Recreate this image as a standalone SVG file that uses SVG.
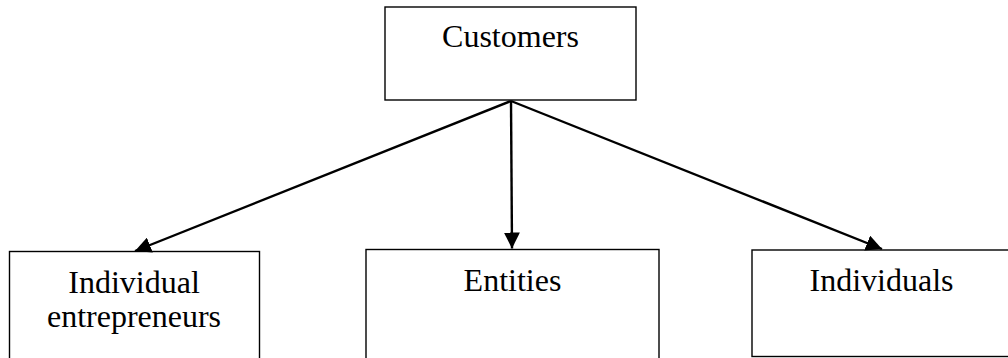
<svg xmlns="http://www.w3.org/2000/svg" width="1008" height="358" viewBox="0 0 1008 358">
  <style>
    .box { fill: #ffffff; stroke: #000000; stroke-width: 1.4; }
    .label { font-family: "Liberation Serif", "Times New Roman", serif; font-size: 32px; fill: #000000; text-anchor: middle; }
    .edge { stroke: #000000; stroke-width: 2.4; fill: none; marker-end: url(#arrow); }
  </style>
  <defs>
    <marker id="arrow" viewBox="0 0 16 16" refX="16" refY="8" markerWidth="16" markerHeight="16" markerUnits="userSpaceOnUse" orient="auto">
      <path d="M0,0 L16,8 L0,16 Z" fill="#000000"/>
    </marker>
  </defs>

  <rect width="1008" height="358" fill="#ffffff"/>

  <g id="customers">
    <rect class="box" x="385" y="7" width="251" height="93"/>
    <text class="label" x="510.5" y="47">Customers</text>
  </g>

  <g id="individual-entrepreneurs">
    <rect class="box" x="9.5" y="251.5" width="250" height="120"/>
    <text class="label" x="134" y="293">Individual</text>
    <text class="label" x="134" y="327">entrepreneurs</text>
  </g>

  <g id="entities">
    <rect class="box" x="366" y="249.5" width="293" height="120"/>
    <text class="label" x="512.5" y="291">Entities</text>
  </g>

  <g id="individuals">
    <rect class="box" x="752" y="250" width="260" height="106.5"/>
    <text class="label" x="881.5" y="291">Individuals</text>
  </g>

  <g id="connectors">
    <line class="edge" x1="511" y1="101" x2="135" y2="251"/>
    <line class="edge" x1="511" y1="101" x2="512" y2="248.5"/>
    <line class="edge" x1="511" y1="101" x2="882" y2="249"/>
  </g>
</svg>
